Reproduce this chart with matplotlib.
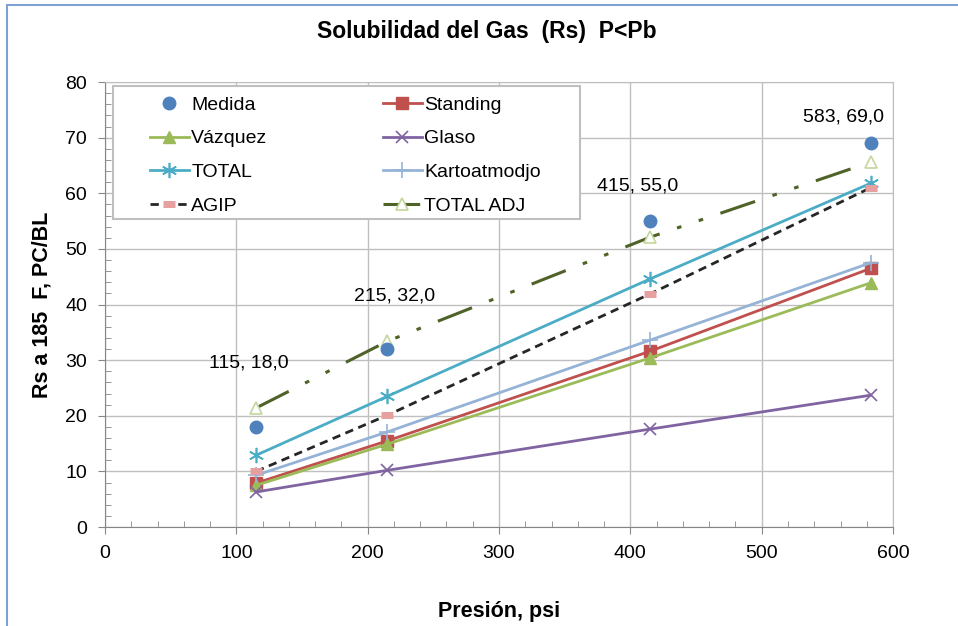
import matplotlib
matplotlib.use("Agg")
import matplotlib.pyplot as plt
from matplotlib.patches import Rectangle

plt.rcParams['font.family'] = ['Liberation Sans', 'DejaVu Sans']

# ---- data ----
presion = [115, 215, 415, 583]
medida = [18.0, 32.0, 55.0, 69.0]
standing = [7.9, 15.5, 31.6, 46.5]
vazquez = [7.5, 14.9, 30.4, 43.9]
glaso = [6.3, 10.2, 17.6, 23.7]
total = [12.9, 23.5, 44.6, 61.8]
kartoatmodjo = [9.3, 17.1, 33.6, 47.5]
agip = [10.0, 20.1, 41.9, 61.0]
total_adj = [21.4, 33.4, 52.1, 65.6]
point_labels = ["115, 18,0", "215, 32,0", "415, 55,0", "583, 69,0"]

title = "Solubilidad del Gas  (Rs)  P<Pb"
xlabel = "Presión, psi"
ylabel = "Rs a 185  F, PC/BL"

fig = plt.figure(figsize=(9.58, 6.26), dpi=100)
ax = fig.add_axes([0.1096, 0.1581, 0.8226, 0.7109])

grid_c = '#BFBFBF'
axis_c = '#868686'
FS = 14

l_med, = ax.plot(presion, medida, linestyle='none', marker='o', ms=9,
                 color='#4F81BD', label='Medida', zorder=5)
l_std, = ax.plot(presion, standing, '-', color='#C0504D', lw=2, marker='s', ms=8,
                 label='Standing', zorder=4)
l_vaz, = ax.plot(presion, vazquez, '-', color='#9BBB59', lw=2, marker='^', ms=8,
                 label='Vázquez', zorder=4)
l_gla, = ax.plot(presion, glaso, '-', color='#8064A2', lw=2, marker='x', ms=8,
                 mew=1.2, label='Glaso', zorder=4)
l_tot, = ax.plot(presion, total, '-', color='#4BACC6', lw=2, marker=(6, 2, 0), ms=11,
                 mew=1.2, label='TOTAL', zorder=4)
l_kar, = ax.plot(presion, kartoatmodjo, '-', color='#95B3D7', lw=2, marker='+', ms=11,
                 mew=1.2, label='Kartoatmodjo', zorder=4)
l_agi, = ax.plot(presion, agip, color='#262626', lw=2, linestyle=(0, (3, 2)),
                 marker='_', ms=8, mew=5, mec='#E6A0A0', label='AGIP', zorder=4)
l_adj, = ax.plot(presion, total_adj, color='#4F6228', lw=2.2,
                 linestyle=(0, (12, 6, 1.5, 6, 1.5, 6)),
                 marker='^', ms=9, mfc='white', mec='#C3D69B', mew=1.2,
                 label='TOTAL ADJ', zorder=4)

# data labels for measured points (offsets in pixels)
offsets = [(-7, 64), (7, 53), (-12, 35), (-27, 26)]
for x, y, t, off in zip(presion, medida, point_labels, offsets):
    ax.annotate(t, (x, y), xytext=off, textcoords='offset pixels',
                ha='center', va='center', fontsize=FS, color='black', zorder=6)

ax.set_xlim(0, 600)
ax.set_ylim(0, 80)
ax.set_xticks(range(0, 601, 100))
ax.set_yticks(range(0, 81, 10))
ax.set_xticks(range(0, 601, 20), minor=True)
ax.set_yticks(range(0, 81, 2), minor=True)
ax.tick_params(axis='both', which='major', direction='out', length=5, color=axis_c,
               labelsize=FS, pad=8)
ax.tick_params(axis='both', which='minor', direction='in', length=4, color=axis_c)
ax.grid(True, which='major', color=grid_c, lw=1)
ax.set_axisbelow(True)
for s in ['top', 'right']:
    ax.spines[s].set_color(grid_c)
for s in ['left', 'bottom']:
    ax.spines[s].set_color(axis_c)

ax.set_xlabel(xlabel, fontsize=15.5, fontweight='bold', labelpad=28)
ax.set_ylabel(ylabel, fontsize=15.5, fontweight='bold', labelpad=9)
fig.text(0.508, 0.949, title, ha='center', va='center', fontsize=16.5, fontweight='bold')

# legend box
ax.add_patch(Rectangle((0.0102, 0.692), 0.593, 0.299, transform=ax.transAxes,
                       facecolor='white', edgecolor=grid_c, lw=1.5, zorder=7))
common = dict(fontsize=FS, frameon=False, loc='upper left', handlelength=2.0,
              handletextpad=0.12, labelspacing=0.82, borderpad=0, borderaxespad=0)
leg1 = ax.legend(handles=[l_med, l_vaz, l_tot, l_agi], bbox_to_anchor=(0.0571, 0.968),
                 **common)
leg1.set_zorder(8)
ax.add_artist(leg1)
leg2 = ax.legend(handles=[l_std, l_gla, l_kar, l_adj], bbox_to_anchor=(0.3528, 0.968),
                 **common)
leg2.set_zorder(8)

# outer chart frame (left and top edges visible)
fig.patches.append(Rectangle((7 / 958, -0.1), 1.2, 1.1 - 5 / 626, transform=fig.transFigure,
                             fill=False, edgecolor='#7FA1D4', lw=1.5))

fig.savefig('out.png', dpi=100)
